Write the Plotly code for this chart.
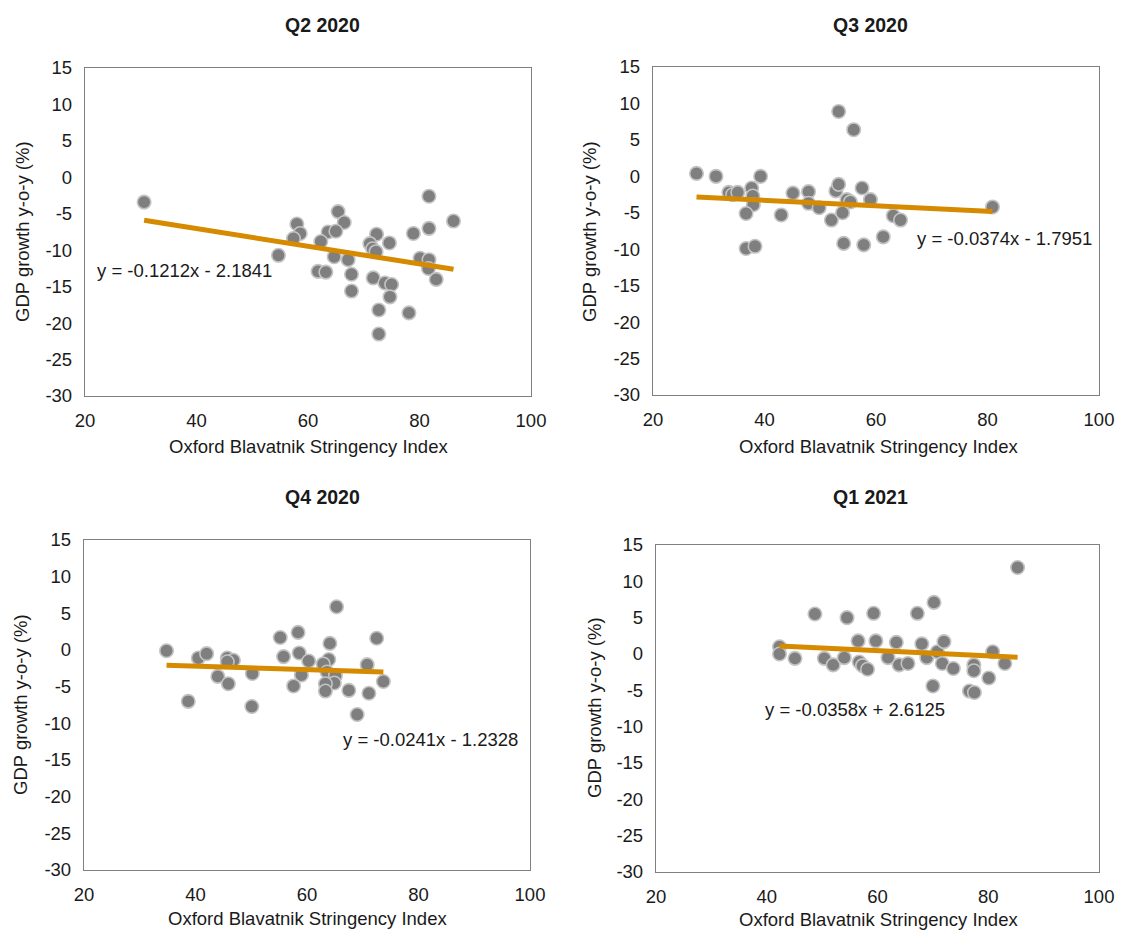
import plotly.graph_objects as go

# ---------------- data ----------------
q2_2020_x = [30.6, 81.7, 65.4, 86.1, 58.0, 66.5, 58.6, 57.4, 63.6, 65.0, 78.9, 81.7, 72.3, 62.3, 71.1, 74.6,
             71.6, 72.2, 54.7, 64.7, 67.2, 80.1, 81.7, 81.6, 61.8, 63.2, 67.8, 71.7, 73.8, 75.0, 83.0, 67.8,
             74.7, 72.7, 78.1, 72.7]
q2_2020_y = [-3.4, -2.6, -4.7, -6.0, -6.4, -6.2, -7.7, -8.4, -7.5, -7.4, -7.7, -7.0, -7.8, -8.8, -9.1, -9.0,
             -9.8, -10.2, -10.7, -10.9, -11.3, -11.1, -11.3, -12.5, -12.9, -13.0, -13.3, -13.8, -14.5, -14.7,
             -14.0, -15.6, -16.4, -18.2, -18.6, -21.5]

q3_2020_x = [53.3, 56.0, 27.8, 31.3, 39.3, 33.6, 34.3, 35.2, 37.7, 37.9, 38.0, 36.7, 43.0, 45.1, 47.9, 47.9,
             49.8, 52.0, 52.8, 53.3, 54.8, 55.4, 54.0, 57.5, 59.0, 63.1, 64.4, 61.3, 36.7, 38.3, 54.2, 57.8, 80.9]
q3_2020_y = [8.9, 6.4, 0.4, 0.0, 0.0, -2.2, -2.5, -2.2, -1.6, -2.7, -3.9, -5.1, -5.3, -2.3, -2.1, -3.7,
             -4.3, -6.0, -2.0, -1.1, -3.2, -3.5, -5.0, -1.6, -3.2, -5.4, -6.0, -8.3, -9.9, -9.6, -9.2, -9.4, -4.2]

q4_2020_x = [65.3, 34.8, 40.5, 42.0, 45.7, 46.8, 45.7, 44.0, 45.9, 38.7, 50.2, 50.1, 55.2, 58.4, 55.8, 58.6,
             60.3, 59.0, 57.6, 64.1, 63.9, 62.9, 63.6, 65.1, 64.9, 63.3, 63.3, 67.5, 69.0, 72.5, 70.8, 71.1, 73.7]
q4_2020_y = [5.9, -0.1, -1.1, -0.5, -1.1, -1.4, -1.6, -3.6, -4.6, -7.0, -3.2, -7.7, 1.7, 2.4, -0.9, -0.4,
             -1.5, -3.4, -4.9, 0.9, -1.3, -1.9, -3.0, -3.5, -4.5, -4.6, -5.6, -5.5, -8.8, 1.6, -2.0, -5.9, -4.3]

q1_2021_x = [85.3, 70.2, 48.7, 54.5, 59.3, 67.2, 42.3, 42.3, 45.1, 50.4, 52.0, 54.0, 56.5, 59.7, 56.7, 57.3,
             58.2, 61.9, 63.4, 63.9, 65.5, 68.0, 68.9, 70.8, 72.0, 71.7, 73.7, 70.0, 77.4, 77.4, 80.1, 76.6,
             77.5, 80.8, 83.0]
q1_2021_y = [11.9, 7.1, 5.5, 5.0, 5.6, 5.6, 1.0, 0.0, -0.6, -0.6, -1.5, -0.5, 1.8, 1.8, -1.1, -1.6,
             -2.1, -0.5, 1.6, -1.5, -1.3, 1.4, -0.5, 0.3, 1.7, -1.3, -2.0, -4.4, -1.5, -2.3, -3.3, -5.1,
             -5.3, 0.3, -1.3]

titles = ["Q2 2020", "Q3 2020", "Q4 2020", "Q1 2021"]
slopes = [-0.1212, -0.0374, -0.0241, -0.0358]
intercepts = [-2.1841, -1.7951, -1.2328, 2.6125]
equations = ["y = -0.1212x - 2.1841", "y = -0.0374x - 1.7951",
             "y = -0.0241x - 1.2328", "y = -0.0358x + 2.6125"]
eq_pos = [(21.8, -12.8), (67.0, -8.5), (66.1, -12.2), (39.3, -7.6)]
x_ticks = [20, 40, 60, 80, 100]
y_ticks = [15, 10, 5, 0, -5, -10, -15, -20, -25, -30]
x_tick_labels = ["20", "40", "60", "80", "100"]
y_tick_labels = ["15", "10", "5", "0", "-5", "-10", "-15", "-20", "-25", "-30"]
x_title = "Oxford Blavatnik Stringency Index"
y_title = "GDP growth y-o-y (%)"

series = [(q2_2020_x, q2_2020_y), (q3_2020_x, q3_2020_y),
          (q4_2020_x, q4_2020_y), (q1_2021_x, q1_2021_y)]

# ---------------- layout (screen pixel geometry) ----------------
OFF = 8                       # default page body margin
W, H = 1123 - OFF, 932 - OFF
frames = [(85, 531, 68, 396), (653, 1099, 67, 395), (84, 530, 540, 870), (656, 1099, 545, 872)]
title_pos = [(322, 25), (870, 25), (322, 497), (870, 497)]
xtitle_pos = [(308, 447), (878, 446), (307, 918), (878, 919)]
ytitle_pos = [(22, 232), (589, 232), (20, 705), (594, 708)]


def fx(px):
    return (px - OFF) / W


def fy(py):
    return 1 - (py - OFF) / H


FONT = "Liberation Sans, Arial, sans-serif"
FS = 18.5
TXT = "#1a1a1a"
fig = go.Figure()
annotations = []

for i, ((xs, ys), (l, r, t, b)) in enumerate(zip(series, frames)):
    n = "" if i == 0 else str(i + 1)
    xa, ya = "x" + n, "y" + n
    fig.add_trace(go.Scatter(
        x=xs, y=ys, mode="markers", xaxis=xa, yaxis=ya, showlegend=False,
        marker=dict(size=13.5, color="#7f7f7f", line=dict(color="#c4c4c4", width=1.6)),
        cliponaxis=False))
    x0, x1 = min(xs), max(xs)
    fig.add_trace(go.Scatter(
        x=[x0, x1], y=[slopes[i] * x0 + intercepts[i], slopes[i] * x1 + intercepts[i]],
        mode="lines", xaxis=xa, yaxis=ya, showlegend=False,
        line=dict(color="#d68a00", width=5)))
    axcommon = dict(showline=True, linecolor="#808080", linewidth=1.3, mirror=True,
                    showgrid=False, zeroline=False, ticks="outside", ticklen=8,
                    tickcolor="rgba(0,0,0,0)", automargin=False, ticklabeloverflow="allow",
                    tickfont=dict(family=FONT, size=FS, color=TXT))
    fig.layout["xaxis" + n] = dict(domain=[fx(l), fx(r)], anchor=ya, range=[20, 100],
                                   tickmode="array", tickvals=x_ticks, ticktext=x_tick_labels,
                                   **axcommon)
    fig.layout["yaxis" + n] = dict(domain=[fy(b), fy(t)], anchor=xa, range=[-30, 15],
                                   tickmode="array", tickvals=y_ticks, ticktext=y_tick_labels,
                                   **axcommon)
    ex, ey = eq_pos[i]
    annotations.append(dict(x=ex, y=ey, xref=xa, yref=ya, text=equations[i], showarrow=False,
                            xanchor="left", yanchor="middle",
                            font=dict(family=FONT, size=FS, color=TXT)))
    tx, ty = title_pos[i]
    annotations.append(dict(x=fx(tx), y=fy(ty), xref="paper", yref="paper",
                            text="<b>" + titles[i] + "</b>", showarrow=False,
                            xanchor="center", yanchor="middle",
                            font=dict(family=FONT, size=19.5, color=TXT)))
    ax_, ay_ = xtitle_pos[i]
    annotations.append(dict(x=fx(ax_), y=fy(ay_), xref="paper", yref="paper",
                            text=x_title, showarrow=False, xanchor="center", yanchor="middle",
                            font=dict(family=FONT, size=FS, color=TXT)))
    yx, yy = ytitle_pos[i]
    annotations.append(dict(x=fx(yx), y=fy(yy), xref="paper", yref="paper",
                            text=y_title, showarrow=False, textangle=-90,
                            xanchor="center", yanchor="middle",
                            font=dict(family=FONT, size=FS, color=TXT)))

fig.update_layout(width=W, height=H,
                  margin=dict(l=0, r=0, t=0, b=0, pad=0, autoexpand=False),
                  paper_bgcolor="white", plot_bgcolor="white",
                  annotations=annotations, font=dict(family=FONT, color=TXT))
fig.write_html("out.html")
